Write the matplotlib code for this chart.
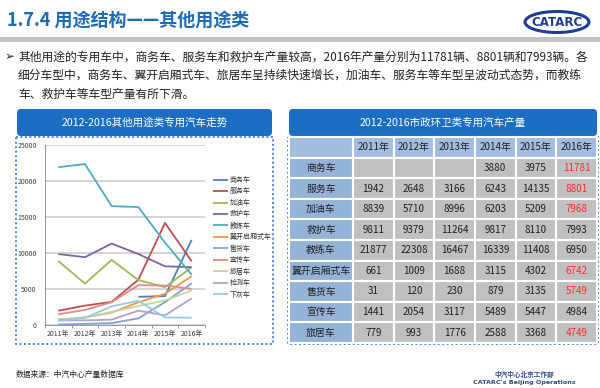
import numpy as np
import matplotlib
matplotlib.use("Agg")
import matplotlib.pyplot as plt
from matplotlib.patches import FancyBboxPatch, Rectangle, Ellipse

plt.rcParams['font.family'] = ['Noto Sans CJK SC', 'DejaVu Sans']

# ---------------- data ----------------
years = ['2011年', '2012年', '2013年', '2014年', '2015年', '2016年']
series_names = ['商务车', '服务车', '加油车', '救护车', '教练车', '翼开启厢式车',
                '售货车', '宣传车', '旅居车', '检测车', '下灰车']
shangwu = [np.nan, np.nan, np.nan, 3880, 3975, 11781]
fuwu = [1942, 2648, 3166, 6243, 14135, 8801]
jiayou = [8839, 5710, 8996, 6203, 5209, 7968]
jiuhu = [9811, 9379, 11264, 9817, 8110, 7993]
jiaolian = [21877, 22308, 16467, 16339, 11408, 6950]
yikaiqi = [661, 1009, 1688, 3115, 4302, 6742]
shouhuo = [31, 120, 230, 879, 3135, 5749]
xuanchuan = [1441, 2054, 3117, 5489, 5447, 4984]
lvju = [779, 993, 1776, 2588, 3368, 4749]
jiance = [600, 600, 700, 1950, 1300, 3650]
xiahui = [550, 950, 2550, 3330, 1000, 970]
series_values = [shangwu, fuwu, jiayou, jiuhu, jiaolian, yikaiqi,
                 shouhuo, xuanchuan, lvju, jiance, xiahui]
series_colors = ['#4F81BD', '#C0504D', '#9BBB59', '#8064A2', '#4BACC6', '#F79646',
                 '#7FA3D8', '#E08C8A', '#C3D69B', '#B3A2C7', '#93CDDD']

table_rows = ['商务车', '服务车', '加油车', '救护车', '教练车', '翼开启厢式车',
              '售货车', '宣传车', '旅居车']
table_values = [shangwu, fuwu, jiayou, jiuhu, jiaolian, yikaiqi, shouhuo, xuanchuan, lvju]
red_2016 = ['商务车', '服务车', '加油车', '翼开启厢式车', '售货车', '旅居车']

title = '1.7.4 用途结构——其他用途类'
bullet_lines = ['其他用途的专用车中，商务车、服务车和救护车产量较高，2016年产量分别为11781辆、8801辆和7993辆。各',
                '细分车型中，商务车、翼开启厢式车、旅居车呈持续快速增长，加油车、服务车等车型呈波动式态势，而教练',
                '车、救护车等车型产量有所下滑。']
left_title = '2012-2016其他用途类专用汽车走势'
right_title = '2012-2016市政环卫类专用汽车产量'
source = '数据来源：中汽中心产量数据库'

W, H = 600, 388
fig = plt.figure(figsize=(W / 100, H / 100), dpi=100)
bg = fig.add_axes([0, 0, 1, 1])
bg.set_xlim(0, W)
bg.set_ylim(H, 0)
bg.axis('off')

def fax(x0, y0, x1, y1):
    return [x0 / W, (H - y1) / H, (x1 - x0) / W, (y1 - y0) / H]

BLUE = '#1B6EC2'
# title
bg.text(7, 20, title, fontsize=13, fontweight='bold', color='#1E6BB8', va='center', ha='left')
bg.add_patch(Rectangle((0, 37), W, 4.5, facecolor='#C4C4C4', edgecolor='none'))
# logo
bg.add_patch(Ellipse((557, 22), 64, 21, facecolor='white', edgecolor='#1F3C96', lw=2.2))
bg.text(557, 22.5, 'CATARC', fontsize=8.5, fontweight='bold', color='#1F3C96',
        ha='center', va='center', family='DejaVu Sans')

# bullet text
bg.text(5, 57, '➢', fontsize=8.5, color='#222222', va='center', ha='left', family='DejaVu Sans')
for i, line in enumerate(bullet_lines):
    bg.text(18, 57 + i * 18.6, line, fontsize=8.5, color='#222222', va='center', ha='left')

# headers
for (x0, x1, txt) in [(17, 272, left_title), (289, 597, right_title)]:
    bg.add_patch(FancyBboxPatch((x0, 109), x1 - x0, 27,
                                boxstyle='round,pad=0,rounding_size=4',
                                facecolor=BLUE, edgecolor='none'))
    bg.text((x0 + x1) / 2, 122.5, txt, fontsize=7.6, color='white', ha='center', va='center')

# dotted borders
dot = dict(facecolor='none', edgecolor='#4A86E0', lw=1.4, linestyle=(0, (1, 1.3)))
bg.add_patch(Rectangle((16, 136.5), 256.5, 207.5, **dot))
bg.add_patch(Rectangle((288, 136.5), 309.5, 207.5, **dot))

# ---------------- line chart ----------------
ax = fig.add_axes(fax(45, 144.7, 205, 324.7))
x = np.arange(len(years))
for name, vals, c in zip(series_names, series_values, series_colors):
    ax.plot(x, vals, color=c, lw=1.3, label=name, solid_capstyle='butt')
ax.set_xlim(-0.5, len(years) - 0.5)
ax.set_ylim(0, 25000)
ax.set_yticks(np.arange(0, 25001, 5000))
ax.set_xticks(x)
ax.set_xticklabels(years)
ax.set_xticks(np.arange(-0.5, len(years), 1), minor=True)
ax.tick_params(axis='x', which='major', length=0, labelsize=5, colors='#404040', pad=4)
ax.tick_params(axis='x', which='minor', length=2.5, color='#868686', width=0.6)
ax.tick_params(axis='y', length=0, labelsize=5, colors='#404040', pad=6)
ax.grid(axis='y', color='#D4D4D4', lw=1.4)
ax.set_axisbelow(True)
for s in ['top', 'right']:
    ax.spines[s].set_visible(False)
for s in ['left', 'bottom']:
    ax.spines[s].set_color('#868686')
    ax.spines[s].set_linewidth(0.6)
leg = ax.legend(loc='upper left', bbox_to_anchor=(213 / W, (H - 176) / H),
                bbox_transform=fig.transFigure, frameon=False, fontsize=5,
                handlelength=2.2, handletextpad=0.2, labelspacing=0.5,
                borderpad=0, borderaxespad=0)
for t in leg.get_texts():
    t.set_color('#333333')

# ---------------- table ----------------
axt = fig.add_axes(fax(289, 137, 597, 343))
axt.axis('off')
cell_text = [[''] + years]
for name, vals in zip(table_rows, table_values):
    cell_text.append([name] + ['' if np.isnan(v) else str(int(v)) for v in np.array(vals, float)])
tbl = axt.table(cellText=cell_text, cellLoc='center', bbox=[0, 0, 1, 1],
                colWidths=[64] + [40.7] * 6)
tbl.auto_set_font_size(False)
for (r, c), cell in tbl.get_celld().items():
    cell.set_edgecolor('white')
    cell.set_linewidth(1.5)
    txt = cell.get_text()
    txt.set_fontsize(7.1)
    txt.set_color('#222222')
    if r == 0:
        cell.set_facecolor('#A3BDE0')
    elif c == 0:
        cell.set_facecolor('#95B3D7')
    else:
        cell.set_facecolor('#C0C0C0')
        if c == len(years) and table_rows[r - 1] in red_2016:
            txt.set_color('#FF2A2A')

# footer
bg.text(16, 375, source, fontsize=5.6, color='#222222', ha='left', va='center')
bg.text(524, 374, '中汽中心北京工作部', fontsize=4.8, color='#2B4A8A', ha='center', va='center',
        fontweight='bold')
bg.text(524, 382.5, "CATARC's Beijing Operations", fontsize=4.6, color='#2B4A8A', ha='center',
        va='center', fontweight='bold', family='DejaVu Sans')

fig.savefig('out.png', dpi=100)
